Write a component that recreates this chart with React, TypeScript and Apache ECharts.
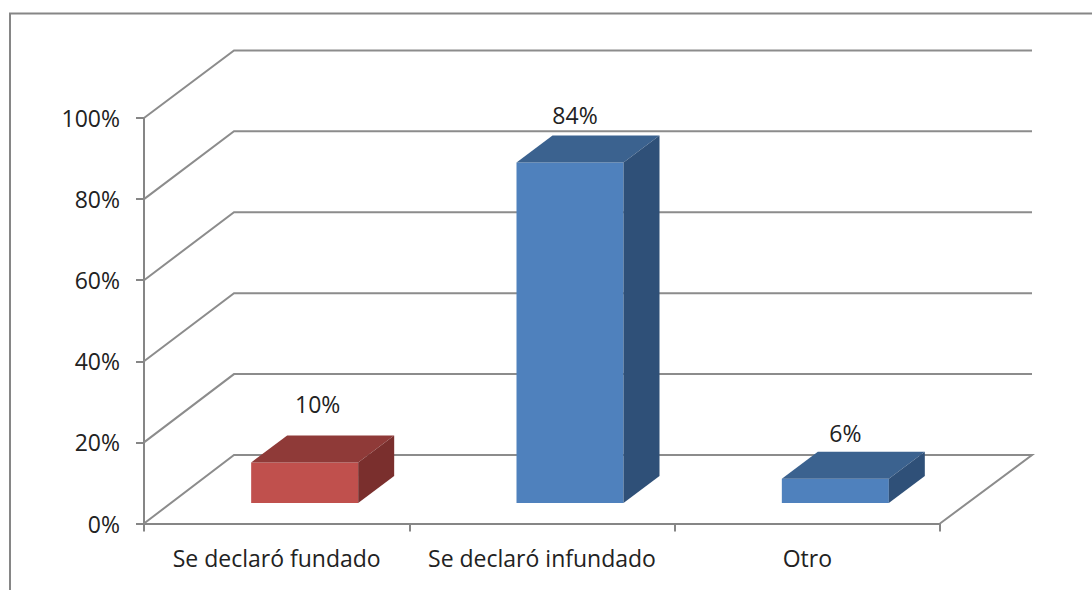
import React, { useEffect, useRef } from "react";
import * as echarts from "echarts";

const categories = ["Se declaró fundado", "Se declaró infundado", "Otro"];
const values = [10, 84, 6];
const valueTicks = [0, 20, 40, 60, 80, 100];

const frontColors = ["#C0504D", "#4F81BD", "#4F81BD"];
const topColors = ["#8F3A38", "#3B628F", "#3B628F"];
const sideColors = ["#7A2F2D", "#2F5078", "#2F5078"];
const labelShifts = [[13, -31], [5, -20], [10, -19]];

const LINE = "#8C8C8C";
const AXIS = "#868686";
const TEXT = "#222222";
const FONT = "'Open Sans'";
const FONT_SIZE = 23;

const DEPTH_X = 90;
const depthY = (v: number) => -68.5 + v * 0.009;
const BAR_SHIFT_X = 28;
const BAR_SHIFT_Y = -20.5;
const BAR_W = 107;
const BAR_DX = 36;
const BAR_DY = -27;

export default function App() {
  const ref = useRef<HTMLDivElement>(null);

  useEffect(() => {
    const chart = echarts.init(ref.current!, undefined, { renderer: "svg" });
    chart.setOption({
      animation: false,
      backgroundColor: "#FFFFFF",
      graphic: [
        {
          type: "polyline",
          shape: { points: [[10, 592], [10, 13.5], [1094, 13.5]] },
          style: { stroke: AXIS, lineWidth: 2, fill: "none" },
        },
      ],
      grid: { left: 144, right: 152, top: 118, bottom: 66.5 },
      xAxis: {
        type: "category",
        data: categories,
        axisLine: { lineStyle: { color: AXIS, width: 2 } },
        axisTick: { show: true, interval: 0, alignWithLabel: false, length: 8, lineStyle: { color: AXIS, width: 2 } },
        axisLabel: { color: TEXT, fontFamily: FONT, fontSize: FONT_SIZE, margin: 23, interval: 0, hideOverlap: false },
      },
      yAxis: {
        type: "value",
        min: 0,
        max: 100,
        interval: 20,
        axisLine: { show: true, lineStyle: { color: AXIS, width: 2 } },
        axisTick: { show: true, length: 8, lineStyle: { color: AXIS, width: 2 } },
        axisLabel: {
          color: TEXT,
          fontFamily: FONT,
          fontSize: FONT_SIZE,
          margin: 24,
          padding: [4, 0, 0, 0],
          formatter: "{value}%",
        },
        splitLine: { show: false },
      },
      series: [
        {
          type: "custom",
          silent: true,
          z: 1,
          data: valueTicks.map((v) => [0, v]),
          renderItem: (params: any, api: any) => {
            const v = api.value(1);
            const y = api.coord([0, v])[1];
            const left = params.coordSys.x;
            const right = left + params.coordSys.width;
            const dy = depthY(v);
            const pts: number[][] = [[left, y], [left + DEPTH_X, y + dy], [right + DEPTH_X + 2, y + dy]];
            if (v === 0) pts.push([right, y]);
            return {
              type: "polyline",
              shape: { points: pts },
              style: { stroke: LINE, lineWidth: 2, fill: "none" },
            };
          },
        },
        {
          type: "custom",
          silent: true,
          z: 2,
          data: values.map((v, i) => [i, v]),
          renderItem: (params: any, api: any) => {
            const i = params.dataIndex;
            const v = api.value(1);
            const top = api.coord([i, v]);
            const base = api.coord([i, 0]);
            const x0 = top[0] + BAR_SHIFT_X - BAR_W / 2;
            const x1 = x0 + BAR_W;
            const yT = top[1] + BAR_SHIFT_Y;
            const yB = base[1] + BAR_SHIFT_Y;
            return {
              type: "group",
              children: [
                {
                  type: "polygon",
                  shape: { points: [[x0, yT], [x1, yT], [x1, yB], [x0, yB]] },
                  style: { fill: frontColors[i] },
                },
                {
                  type: "polygon",
                  shape: { points: [[x0, yT], [x0 + BAR_DX, yT + BAR_DY], [x1 + BAR_DX, yT + BAR_DY], [x1, yT]] },
                  style: { fill: topColors[i] },
                },
                {
                  type: "polygon",
                  shape: { points: [[x1, yT], [x1 + BAR_DX, yT + BAR_DY], [x1 + BAR_DX, yB + BAR_DY], [x1, yB]] },
                  style: { fill: sideColors[i] },
                },
                {
                  type: "text",
                  style: {
                    text: v + "%",
                    x: (x0 + x1) / 2 + labelShifts[i][0],
                    y: yT + BAR_DY + labelShifts[i][1],
                    align: "center",
                    verticalAlign: "middle",
                    fill: TEXT,
                    font: `${FONT_SIZE}px ${FONT}`,
                  },
                },
              ],
            };
          },
        },
      ],
    });
    return () => chart.dispose();
  }, []);

  return (
    <div
      ref={ref}
      style={{ position: "absolute", left: 0, top: 0, width: 1092, height: 590, overflow: "hidden" }}
    />
  );
}
